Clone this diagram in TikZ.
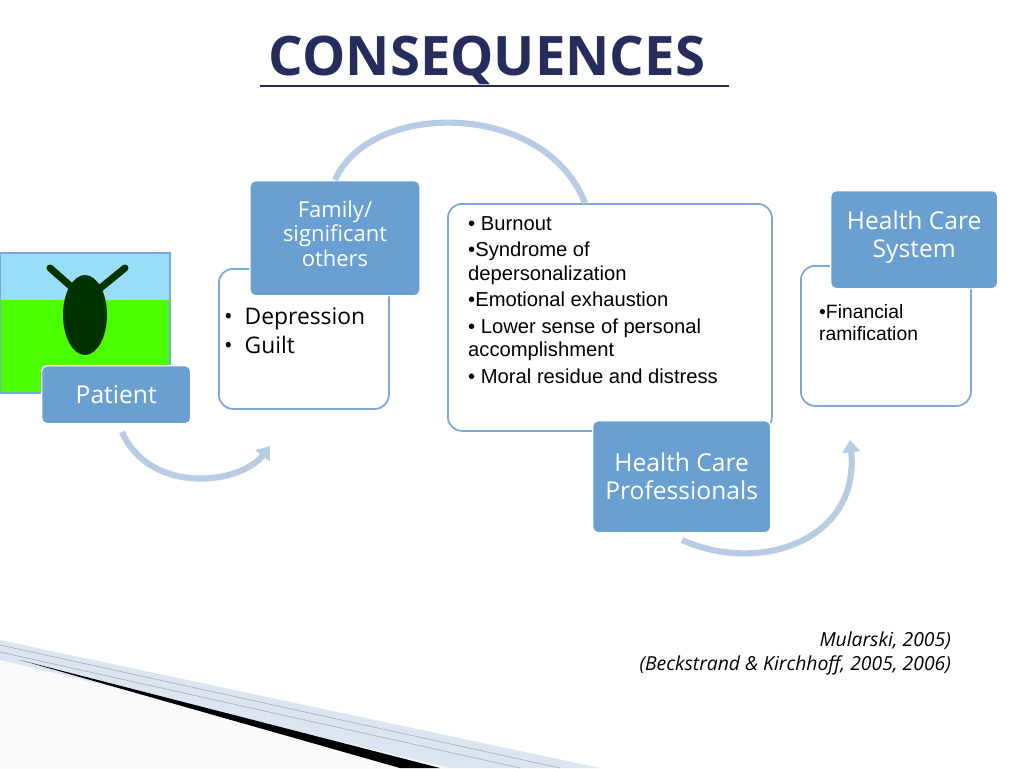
\documentclass[tikz,border=0pt]{standalone}
\usepackage{fontspec}
\setmainfont{Open Sans}
\newfontfamily\listfont{Liberation Sans}
\usetikzlibrary{positioning,arrows.meta}
\definecolor{navy}{HTML}{262C5C}
\definecolor{boxblue}{HTML}{6A9FD2}
\definecolor{edgeblue}{HTML}{7EA8D6}
\definecolor{arcblue}{HTML}{B8CCE4}
\definecolor{paleblue}{HTML}{DCE6F2}
\begin{document}
\begin{tikzpicture}[x=0.02cm,y=-0.02cm,
    label/.style={rectangle, rounded corners=3pt, fill=boxblue, draw=white, line width=0.8pt, text=white, font=\fontsize{14}{16}\selectfont, align=center, anchor=north west},
    labeltext/.style={text=white, align=center, anchor=north, inner sep=0pt},
    panel/.style={rectangle, rounded corners=8pt, draw=edgeblue, line width=1pt, fill=white, anchor=north west},
    flow/.style={arcblue, line width=3.5pt, -{Triangle[length=7pt,width=10pt]}}
]
    \useasboundingbox (0,0) rectangle (1024,768);
    \fill[white] (0,0) rectangle (1024,768);
    % title
    \node[text=navy, font=\fontsize{31}{34}\selectfont\bfseries] (title) at (487,60) {CONSEQUENCES};
    \draw[navy, line width=1.2pt] (260,86) -- (729,86);
    % bottom-left decoration
    \fill[paleblue] (0,640) -- (600,768) -- (0,768) -- cycle;
    \fill[white!80!paleblue] (0,660) -- (450,768) -- (0,768) -- cycle;
    \fill[black] (20,660) -- (440,768) -- (400,768) -- cycle;
    \draw[gray!60] (0,645) -- (560,768);
    \draw[gray!60] (0,652) -- (520,768);
    % photo
    \fill[cyan!40!white] (0,253) rectangle (170,393);
    \fill[green!60!lime] (0,300) rectangle (170,393);
    \fill[black!80!green] (85,315) ellipse (22 and 40);
    \draw[black!80!green, line width=4pt, line cap=round] (75,290) -- (50,268) (98,290) -- (125,268);
    \draw[edgeblue, line width=1pt] (0,253) rectangle (170,393);
    % panels
    \node[panel, minimum width=170*0.02cm, minimum height=140*0.02cm] (famPanel) at (218,268) {};
    \node[panel, minimum width=324*0.02cm, minimum height=227*0.02cm] (hcpPanel) at (447,203) {};
    \node[panel, minimum width=170*0.02cm, minimum height=140*0.02cm] (hcsPanel) at (800,265) {};
    % labels
    \node[label, minimum width=149*0.02cm, minimum height=58*0.02cm] (patient) at (41,365) {Patient};
    \node[label, minimum width=170*0.02cm, minimum height=115*0.02cm, anchor=north] (family) at (335,180) {};
    \node[labeltext, font=\fontsize{12.5}{14}\selectfont, below=20*0.02cm of family.north] (familyText) {Family/\\significant\\others};
    \node[label, minimum width=178*0.02cm, minimum height=112*0.02cm] (hcp) at (592,420) {Health Care\\Professionals};
    \node[label, minimum width=167*0.02cm, minimum height=98*0.02cm] (hcs) at (830,190) {};
    \node[labeltext, font=\fontsize{14}{16}\selectfont, below=20*0.02cm of hcs.north] (hcsLabel) {Health Care\\System};
    % panel texts
    \node[anchor=north west, font=\fontsize{13}{16}\selectfont, align=left] (famText) at (218,302) {\textbullet\ \ Depression\\\textbullet\ \ Guilt};
    \node[anchor=north west, font=\listfont\fontsize{11.5}{13.2}\selectfont, align=left] (hcpText) at (462,210) {\textbullet\ Burnout\\[2pt]\textbullet Syndrome of\\depersonalization\\[2pt]\textbullet Emotional exhaustion\\[2pt]\textbullet\ Lower sense of personal\\accomplishment\\[2pt]\textbullet\ Moral residue and distress};
    \node[anchor=north west, font=\listfont\fontsize{11}{12.5}\selectfont, align=left] (hcsText) at (813,298) {\textbullet Financial\\ramification};
    % connectors
    \coordinate (a1) at (122,432);
    \coordinate (a2) at (270,446);
    \draw[flow] (a1) .. controls (150,495) and (240,485) .. (a2);
    \draw[arcblue, line width=3.5pt] (family.north) .. controls (370,100) and (545,100) .. (hcpPanel.north west -| 585,203);
    \coordinate (b1) at (682,540);
    \coordinate (b2) at (850,440);
    \draw[flow] (b1) .. controls (760,575) and (860,540) .. (b2);
    % citations
    \node[anchor=east, font=\fontsize{11}{13}\selectfont\itshape] (cite1) at (957,641) {Mularski, 2005)};
    \node[anchor=east, font=\fontsize{11}{13}\selectfont\itshape] (cite2) at (957,665) {(Beckstrand \& Kirchhoff, 2005, 2006)};
\end{tikzpicture}
\end{document}
